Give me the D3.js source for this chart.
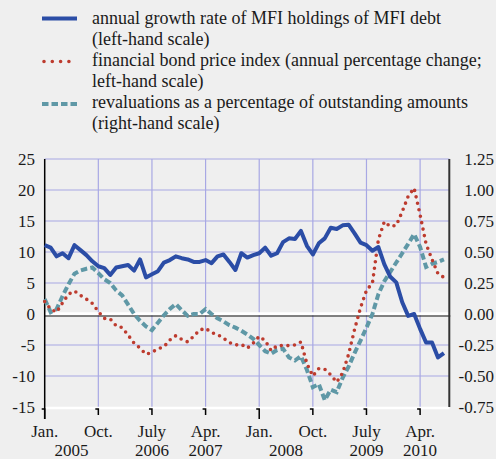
<!DOCTYPE html>
<html>
<head>
<meta charset="utf-8">
<title>MFI debt holdings</title>
<script src="https://d3js.org/d3.v7.min.js"></script>
<style>
  body { margin: 0; background: #efefef; }
  svg { display: block; font-family: "Liberation Serif", "Times New Roman", serif; }
  text { fill: #1a1a1a; font-size: 17px; }
  .legend text { font-size: 18px; }
</style>
</head>
<body>
<svg width="496" height="459"></svg>
<script>
// monthly observations, Jan 2005 .. Aug 2010 (index 0 = Jan 2005)
var mfiGrowth = [
  11.1, 10.7, 9.3, 9.8, 9.0, 11.1, 10.3, 9.5, 8.5, 7.7, 7.4, 6.3,
  7.5, 7.7, 7.9, 7.0, 8.8, 5.9, 6.4, 6.9, 8.3, 8.7, 9.3, 9.0,
  8.8, 8.4, 8.4, 8.7, 8.2, 9.3, 9.6, 8.4, 7.1, 9.8, 9.1, 9.5,
  9.8, 10.7, 9.4, 9.8, 11.6, 12.2, 12.1, 13.4, 11.0, 9.6, 11.4, 12.2,
  13.9, 13.7, 14.3, 14.4, 13.0, 11.5, 11.1, 10.2, 10.8, 8.0, 6.0, 5.1,
  1.9, -0.3, 0.0, -2.4, -4.6, -4.6, -7.0, -6.3
];
var bondPrice = [
  2.0, 0.8, 0.3, 1.8, 3.2, 3.7, 3.0, 2.4, 1.7, 0.4, -0.7, -0.8,
  -1.9, -2.2, -3.4, -4.7, -5.5, -6.5, -6.2, -5.6, -5.3, -4.2, -3.5, -4.1,
  -4.5, -3.6, -2.6, -2.3, -3.0, -3.3, -3.9, -4.6, -5.0, -4.9, -5.5, -4.7,
  -3.6, -4.3, -5.9, -5.1, -5.1, -5.1, -5.0, -4.5, -8.0, -10.0, -8.8, -8.9,
  -9.8, -11.0, -9.5, -6.5, -2.5, 1.0, 3.8, 5.0, 12.0, 14.9, 14.1, 14.3,
  16.5, 19.0, 20.3, 16.0, 11.3, 8.8, 6.5, 5.9
];
// right-hand scale (percent of outstanding amounts)
var revaluations = [
  0.120, 0.015, 0.040, 0.145, 0.240, 0.325, 0.350, 0.365, 0.375, 0.330, 0.280, 0.250,
  0.190, 0.150, 0.075, 0.000, -0.055, -0.100, -0.130, -0.070, -0.010, 0.040, 0.080, 0.030,
  -0.015, 0.000, 0.000, 0.040, 0.000, -0.035, -0.060, -0.090, -0.110, -0.135, -0.165, -0.200,
  -0.250, -0.300, -0.320, -0.290, -0.280, -0.350, -0.375, -0.340, -0.450, -0.590, -0.565, -0.695,
  -0.610, -0.630, -0.515, -0.425, -0.315, -0.215, -0.110, 0.000, 0.160, 0.265, 0.340, 0.415,
  0.490, 0.565, 0.645, 0.540, 0.380, 0.405, 0.420, 0.440
];

var leftTicks = [25, 20, 15, 10, 5, 0, -5, -10, -15];
var rightTicks = ["1.25", "1.00", "0.75", "0.50", "0.25", "0.00", "-0.25", "-0.50", "-0.75"];
var tickMonths = [0, 9, 18, 27, 36, 45, 54, 63];
var tickNames = ["Jan.", "Oct.", "July", "Apr.", "Jan.", "Oct.", "July", "Apr."];
var yearNames = ["2005", "2006", "2007", "2008", "2009", "2010"];
var yearAt = [4.5, 18, 27, 40.5, 54, 63];

var legendItems = [
  ["annual growth rate of MFI holdings of MFI debt", "(left-hand scale)"],
  ["financial bond price index (annual percentage change;", "left-hand scale)"],
  ["revaluations as a percentage of outstanding amounts", "(right-hand scale)"]
];

var svg = d3.select("svg");
var plotLeft = 44.7, plotRight = 449.3, plotTop = 159, plotBottom = 407;

var x = d3.scaleLinear().domain([0, 67.9]).range([plotLeft, plotRight]);
var y = d3.scaleLinear().domain([-15, 25]).range([plotBottom, plotTop]);
var yR = d3.scaleLinear().domain([-0.75, 1.25]).range([plotBottom, plotTop]);

var blue = "#2b4da6", red = "#bd3b2e", teal = "#5f98a6", grid = "#a8a8e4";

// grid
svg.append("g").selectAll("line").data(leftTicks.filter(function(d) { return d !== 0 && d !== -15; }))
  .enter().append("line")
  .attr("x1", plotLeft).attr("x2", plotRight)
  .attr("y1", function(d) { return y(d); }).attr("y2", function(d) { return y(d); })
  .attr("stroke", grid).attr("stroke-width", 1.2);
svg.append("g").selectAll("line").data(tickMonths.slice(1))
  .enter().append("line")
  .attr("x1", function(d) { return x(d); }).attr("x2", function(d) { return x(d); })
  .attr("y1", plotTop).attr("y2", plotBottom)
  .attr("stroke", grid).attr("stroke-width", 1.2);

// zero line and bottom edge
svg.append("line").attr("x1", plotLeft).attr("x2", plotRight + 1).attr("y1", y(0) - 0.2).attr("y2", y(0) - 0.2)
  .attr("stroke", "#fff").attr("stroke-width", 3);
svg.append("line").attr("x1", plotLeft).attr("x2", plotRight + 1).attr("y1", y(0) + 2).attr("y2", y(0) + 2)
  .attr("stroke", "#111").attr("stroke-width", 1.1);
svg.append("line").attr("x1", plotLeft).attr("x2", plotRight).attr("y1", plotBottom + 1).attr("y2", plotBottom + 1)
  .attr("stroke", "#fff").attr("stroke-width", 2.5);

// axis lines
svg.append("line").attr("x1", plotLeft).attr("x2", plotLeft).attr("y1", plotTop).attr("y2", plotBottom + 12)
  .attr("stroke", "#000").attr("stroke-width", 1.5);
svg.append("line").attr("x1", plotRight).attr("x2", plotRight).attr("y1", plotTop).attr("y2", plotBottom)
  .attr("stroke", "#333").attr("stroke-width", 2);

// x ticks
svg.append("g").selectAll("path").data(tickMonths)
  .enter().append("path")
  .attr("d", function(d, i) {
    var len = (i === 0 || i === 4) ? 10 : 6;
    return "M" + (x(d) - 3) + "," + (plotBottom + 2) + "H" + x(d) + "V" + (plotBottom + 2 + len);
  })
  .attr("fill", "none").attr("stroke", "#000").attr("stroke-width", 1.5);

// tick labels
svg.append("g").selectAll("text").data(leftTicks)
  .enter().append("text")
  .attr("x", 35).attr("y", function(d) { return y(d); }).attr("dy", "0.36em")
  .attr("text-anchor", "end").text(function(d) { return d; });
svg.append("g").selectAll("text").data(rightTicks)
  .enter().append("text")
  .attr("x", 494).attr("y", function(d) { return yR(+d); }).attr("dy", "0.36em")
  .attr("text-anchor", "end").text(function(d) { return d; });
svg.append("g").selectAll("text").data(tickMonths)
  .enter().append("text")
  .attr("x", function(d) { return x(d); }).attr("y", 437)
  .attr("text-anchor", "middle").text(function(d, i) { return tickNames[i]; });
svg.append("g").selectAll("text").data(yearNames)
  .enter().append("text")
  .attr("x", function(d, i) { return x(yearAt[i]); }).attr("y", 456)
  .attr("text-anchor", "middle").text(function(d) { return d; });

// series
var lineL = d3.line().x(function(d, i) { return x(i); }).y(function(d) { return y(d); });
var lineR = d3.line().x(function(d, i) { return x(i); }).y(function(d) { return yR(d); });

svg.append("path").attr("d", lineR(revaluations))
  .attr("fill", "none").attr("stroke", teal).attr("stroke-width", 4)
  .attr("stroke-dasharray", "6.5 3.2");
svg.append("path").attr("d", lineL(bondPrice))
  .attr("fill", "none").attr("stroke", red).attr("stroke-width", 3.6)
  .attr("stroke-linecap", "round").attr("stroke-dasharray", "0 6.6");
svg.append("path").attr("d", lineL(mfiGrowth))
  .attr("fill", "none").attr("stroke", blue).attr("stroke-width", 4)
  .attr("stroke-linejoin", "round");

// legend
var legend = svg.append("g").attr("class", "legend");
var sampleY = [18.5, 61.5, 104];
var styles = [
  { stroke: blue, w: 4, dash: null, cap: "butt" },
  { stroke: red, w: 3.6, dash: "0 8.3", cap: "round" },
  { stroke: teal, w: 4, dash: "6.5 3", cap: "butt" }
];
legendItems.forEach(function(item, i) {
  var s = styles[i];
  legend.append("line")
    .attr("x1", i === 1 ? 44 : 42).attr("x2", 77)
    .attr("y1", sampleY[i]).attr("y2", sampleY[i])
    .attr("stroke", s.stroke).attr("stroke-width", s.w)
    .attr("stroke-linecap", s.cap)
    .attr("stroke-dasharray", s.dash);
  item.forEach(function(t, j) {
    legend.append("text").attr("x", 92).attr("y", 23.5 + (i * 2 + j) * 21.1).text(t);
  });
});
</script>
</body>
</html>
